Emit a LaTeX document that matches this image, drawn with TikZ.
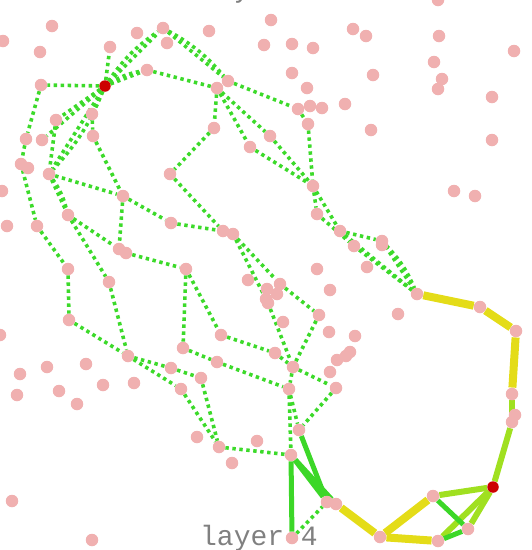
\documentclass[tikz,border=0pt]{standalone}
\usepackage{fontspec}
\newfontfamily\monofont{Liberation Mono}
\pgfdeclarelayer{bg}
\pgfsetlayers{bg,main}
\definecolor{pinkdot}{RGB}{240,176,176}
\definecolor{reddot}{RGB}{204,0,0}
\definecolor{dotgreen}{RGB}{60,218,42}
\definecolor{yel}{RGB}{228,220,24}
\definecolor{lime}{RGB}{160,224,32}
\definecolor{grn}{RGB}{60,215,40}
\definecolor{labgray}{RGB}{128,128,128}
\tikzset{
  pdot/.style={circle,fill=pinkdot,inner sep=0pt,minimum size=12.5pt},
  rdot/.style={circle,fill=reddot,inner sep=0pt,minimum size=11.5pt},
  dotedge/.style={dotgreen,line width=3.6pt,dash pattern=on 3.4pt off 3.6pt},
  yedge/.style={yel,line width=8pt},
  ledge/.style={lime,line width=6pt},
  gedge/.style={grn,line width=5pt},
  lab/.style={font=\monofont\fontsize{28}{28}\selectfont,text=labgray,inner sep=0pt}
}
\begin{document}
\begin{tikzpicture}[x=1pt,y=-1pt]
\useasboundingbox (0,0) rectangle (532,550);
\node[lab,anchor=base] (toplab) at (259,-3) {layer 3};
\node[lab,anchor=base] (botlab) at (259,545) {layer 4};
% dots
\foreach \a/\b in {52/26,3/41,40/52,110/47,137/33,163/28,167/43,209/31,147/70,41/85,228/81,217/88,264/45,271/20,292/44,313/48,353/29,366/36,439/36,514/51,438/0,292/73,373/75,434/62,442/79,438/89,307/88,298/109,310/106,322/108,345/104,492/97,308/124,371/130,270/136,492/140,56/120,92/114,26/139,42/140,93/136,214/128,250/147,21/164,28/168,49/174,170/174,2/191,123/196,313/186,454/191,475/196,317/214,340/231,354/246,382/241,382/245,367/267,317/269,68/215,7/226,37/226,171/223,223/231,233/234,119/249,126/253,68/269,186/269,109/282,248/280,280/284,267/289,277/294,266/299,268/303,330/290,417/294,480/307,516/331,398/314,319/315,283/322,329/332,355/336,69/320,221/335,0/335,183/348,128/356,217/362,275/353,337/360,346/356,350/352,171/368,20/374,47/367,86/364,201/378,293/367,330/372,17/395,59/391,77/404,103/385,134/383,181/389,289/389,336/388,512/394,515/415,512/422,299/430,197/437,257/441,219/447,232/463,291/455,12/501,92/540,433/496,327/502,336/504,468/529,380/537,438/541,292/538}
  \node[pdot] (n\a x\b) at (\a,\b) {};
\node[rdot] (n105x86) at (105,86) {};
\node[rdot] (n493x487) at (493,487) {};
\begin{pgfonlayer}{bg}
\foreach \p/\q in {105x86/41x85,41x85/26x139,26x139/21x164,21x164/37x226,37x226/68x269,68x269/69x320,69x320/128x356,128x356/171x368,171x368/201x378,201x378/219x447,128x356/181x389,181x389/219x447,219x447/291x455,105x86/56x120,56x120/49x174,105x86/49x174,105x86/42x140,105x86/92x114,92x114/93x136,93x136/123x196,49x174/123x196,49x174/68x215,123x196/171x223,123x196/119x249,68x215/119x249,68x215/109x282,109x282/128x356,126x253/186x269,186x269/183x348,186x269/221x335,221x335/275x353,275x353/293x367,183x348/217x362,217x362/289x389,171x223/223x231,233x234/280x284,233x234/268x303,280x284/319x315,319x315/293x367,268x303/293x367,293x367/289x389,293x367/336x388,289x389/291x455,289x389/299x430,336x388/299x430,292x538/327x502,105x86/110x47,105x86/163x28,163x28/228x81,105x86/147x70,147x70/217x88,228x81/298x109,217x88/214x128,214x128/170x174,170x174/223x231,217x88/270x136,270x136/313x186,217x88/250x147,250x147/313x186,298x109/308x124,308x124/313x186,313x186/317x214,313x186/340x231,317x214/354x246,340x231/382x241,382x241/417x294,354x246/417x294,340x231/417x294}
  \draw[dotedge] (n\p) -- (n\q);
\foreach \p/\q in {105x86/163x28,163x28/228x81,49x174/68x215,382x241/417x294,105x86/49x174,105x86/147x70}
  \draw[dotedge] (n\p) to[bend left=10] (n\q);
\foreach \p/\q in {417x294/480x307,480x307/516x331,516x331/512x394,433x496/380x537,380x537/438x541,380x537/336x504}
  \draw[yedge] (n\p) -- (n\q);
\foreach \p/\q in {512x394/512x422,512x422/493x487,493x487/433x496,493x487/468x529,493x487/438x541}
  \draw[ledge] (n\p) -- (n\q);
\foreach \p/\q in {433x496/468x529,468x529/438x541,291x455/327x502,291x455/336x504,299x430/327x502,291x455/292x538}
  \draw[gedge] (n\p) -- (n\q);
\end{pgfonlayer}
\end{tikzpicture}
\end{document}
